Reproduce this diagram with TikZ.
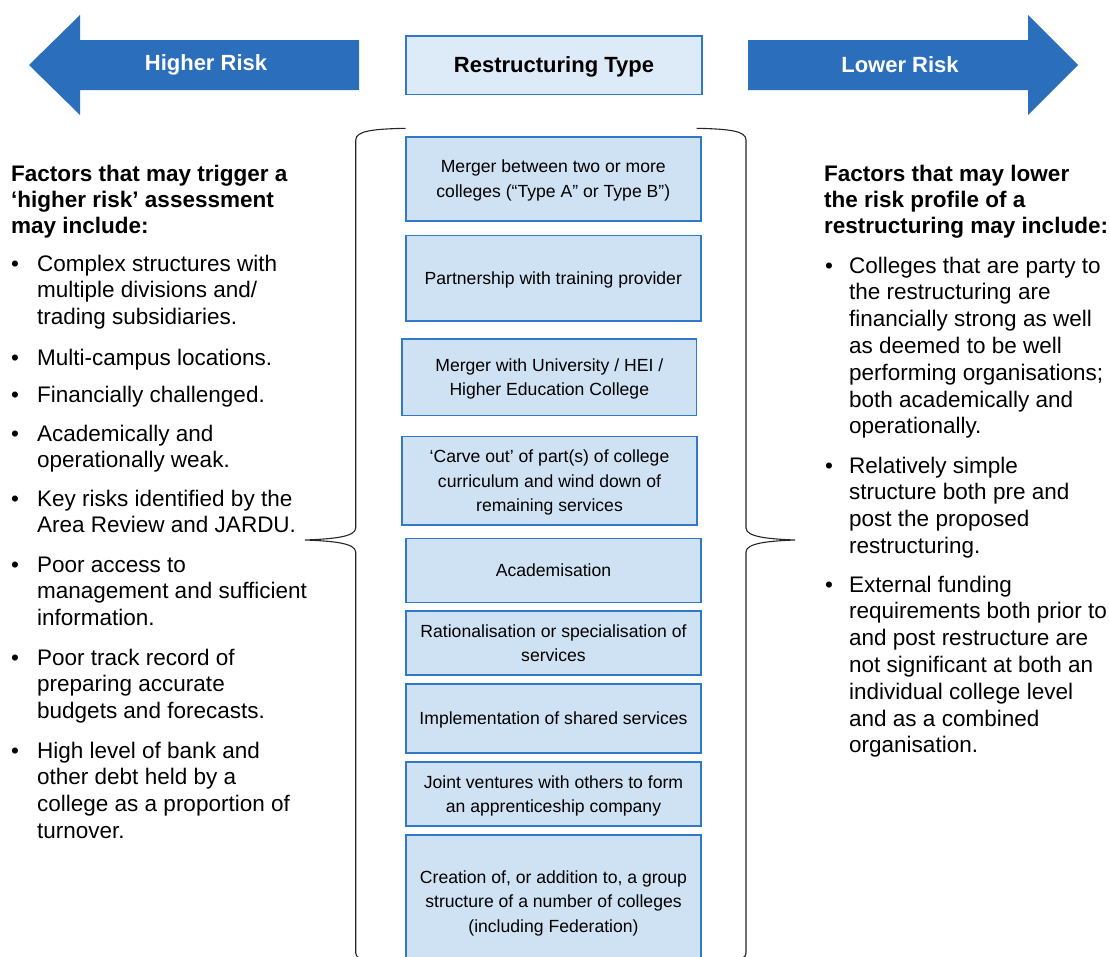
\documentclass[tikz,border=0pt]{standalone}
\usepackage{fontspec}
\setmainfont{Liberation Sans}
\usetikzlibrary{positioning}

\definecolor{riskblue}{RGB}{42,110,188}
\definecolor{boxline}{RGB}{50,120,200}
\definecolor{boxfill}{RGB}{207,226,244}
\definecolor{headfill}{RGB}{221,235,248}

\tikzset{
  typebox/.style={draw=boxline, line width=1.6, fill=boxfill, align=center, inner sep=0, text depth=-6, font=\fontsize{17.6}{24.6}\selectfont},
  sidetext/.style={anchor=base west, align=left, inner sep=0, font=\fontsize{22.5}{26.8}\selectfont},
  sidehead/.style={anchor=base west, align=left, inner sep=0, font=\fontsize{22.5}{26.3}\selectfont\bfseries},
  dot/.style={anchor=base west, inner sep=0, font=\fontsize{22.5}{26.8}\selectfont},
  arrowlabel/.style={text=white, font=\fontsize{22}{26}\selectfont\bfseries},
  brace/.style={draw=black!85, line width=1.1}
}

\begin{document}
\begin{tikzpicture}[x=1pt, y=-1pt]
\clip (0,0) rectangle (1110,956);

% risk arrows
\fill[riskblue] (29,65) -- (80,15) -- (80,40) -- (359,40) -- (359,90) -- (80,90) -- (80,115) -- cycle;
\node[arrowlabel] (higher) at (206,65) {Higher Risk};
\fill[riskblue] (1078,65) -- (1028,15) -- (1028,40) -- (748,40) -- (748,90) -- (1028,90) -- (1028,115) -- cycle;
\node[arrowlabel] (lower) at (900,65) {Lower Risk};

% restructuring types
\node[typebox, fill=headfill, minimum width=296, minimum height=58.6, text depth=0, font=\fontsize{22}{26}\selectfont\bfseries] (rtype) at (554,65) {Restructuring Type};
\node[typebox, minimum width=295, minimum height=84] (merger) at (553.3,178.7) {Merger between two or more\\colleges (“Type A” or Type B”)};
\node[typebox, minimum width=295, minimum height=85.7] (partner) at (553.3,278.2) {Partnership with training provider};
\node[typebox, minimum width=294.7, minimum height=76.6] (univ) at (549.3,377) {Merger with University / HEI /\\Higher Education College};
\node[typebox, minimum width=295, minimum height=88.3] (carve) at (549.5,480.8) {‘Carve out’ of part(s) of college\\curriculum and wind down of\\remaining services};
\node[typebox, minimum width=295, minimum height=64] (academy) at (553.5,570.3) {Academisation};
\node[typebox, minimum width=295, minimum height=64] (ration) at (553.5,643) {Rationalisation or specialisation of\\services};
\node[typebox, minimum width=295, minimum height=69] (shared) at (553.5,718.5) {Implementation of shared services};
\node[typebox, minimum width=295, minimum height=64] (joint) at (553.5,794) {Joint ventures with others to form\\an apprenticeship company};
\node[typebox, minimum width=295, minimum height=133] (group) at (553.5,901.5) {Creation of, or addition to, a group\\structure of a number of colleges\\(including Federation)};

% braces
\draw[brace] (405.7,128.3) .. controls (372,129) and (356,131) .. (355.7,140) -- (355.7,528)
  .. controls (355.7,537) and (332,539) .. (305,540) .. controls (332,541) and (355.7,543) .. (355.7,552)
  -- (355.7,953) .. controls (356,961) and (372,963) .. (405.7,964);
\draw[brace] (696.7,128.3) .. controls (730,129) and (746,131) .. (746,140) -- (746,528)
  .. controls (746,537) and (769,539) .. (795,540) .. controls (769,541) and (746,543) .. (746,552)
  -- (746,953) .. controls (746,961) and (730,963) .. (696.7,964);

% higher risk factors (nodes placed at the baseline of their last line)
\node[sidehead] (highhead) at (11,233.6) {Factors that may trigger a\\‘higher risk’ assessment\\may include:};
\node[dot] (hd1) at (11,271) {•}; \node[sidetext] (h1) at (37,324.6) {Complex structures with\\multiple divisions and/\\trading subsidiaries.};
\node[dot] (hd2) at (11,365) {•}; \node[sidetext] (h2) at (37,365) {Multi-campus locations.};
\node[dot] (hd3) at (11,402) {•}; \node[sidetext] (h3) at (37,402) {Financially challenged.};
\node[dot] (hd4) at (11,441) {•}; \node[sidetext] (h4) at (37,467.8) {Academically and\\operationally weak.};
\node[dot] (hd5) at (11,506) {•}; \node[sidetext] (h5) at (37,532.8) {Key risks identified by the\\Area Review and JARDU.};
\node[dot] (hd6) at (11,572) {•}; \node[sidetext] (h6) at (37,625.6) {Poor access to\\management and sufficient\\information.};
\node[dot] (hd7) at (11,665) {•}; \node[sidetext] (h7) at (37,718.6) {Poor track record of\\preparing accurate\\budgets and forecasts.};
\node[dot] (hd8) at (11,758) {•}; \node[sidetext] (h8) at (37,838.4) {High level of bank and\\other debt held by a\\college as a proportion of\\turnover.};

% lower risk factors
\node[sidehead] (lowhead) at (824,233.6) {Factors that may lower\\the risk profile of a\\restructuring may include:};
\node[dot] (ld1) at (825,273) {•}; \node[sidetext] (l1) at (849,433.8) {Colleges that are party to\\the restructuring are\\financially strong as well\\as deemed to be well\\performing organisations;\\both academically and\\operationally.};
\node[dot] (ld2) at (825,473) {•}; \node[sidetext] (l2) at (849,553.4) {Relatively simple\\structure both pre and\\post the proposed\\restructuring.};
\node[dot] (ld3) at (825,592) {•}; \node[sidetext] (l3) at (849,752.8) {External funding\\requirements both prior to\\and post restructure are\\not significant at both an\\individual college level\\and as a combined\\organisation.};
\end{tikzpicture}
\end{document}
